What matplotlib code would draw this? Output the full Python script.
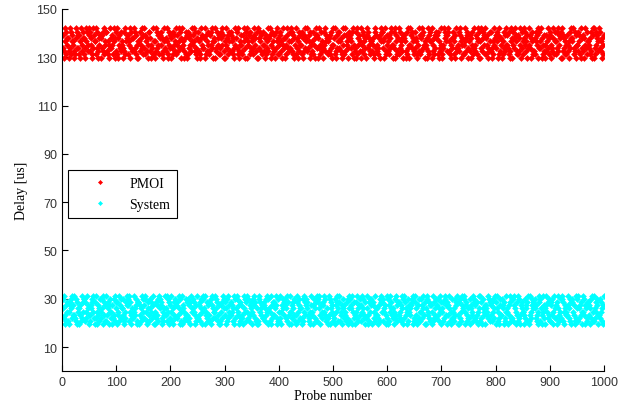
import numpy as np
import matplotlib

matplotlib.use("Agg")
from matplotlib import pyplot as plt  # noqa: E402

# Delay levels (us) seen in each band; the code strings index into these.
PMOI_LEVELS = [129.8, 131.2, 132.5, 133.9, 135.2, 136.6, 137.9, 139.3, 140.6, 142.0]
SYSTEM_LEVELS = [19.5, 20.8, 22.1, 23.4, 24.7, 26.0, 27.3, 28.6, 29.9, 31.2]

PMOI_CODES = """
7302958146 6203918755 4201968337 7150942866 1039582479
2846019375 5918302647 0637281945 8825104936 3471950628
9160473825 4038291567 1754093862 6293817045 0582649317
3917526048 8264039151 5029384716 7481620593 2695018437
6038147259 1472958306 9345026817 0816374295 4759283160
8521069473 3690715284 2174839506 5903284617 1368497025
0496371852 7825160394 6381920547 4217593068 9054718236
5137946280 0963582714 8420617359 2679041853 7208395164
1785204936 6041793528 3952871604 9136508247 4810627395
6293758014 2518460973 7069314825 0384927561 5627183049
4619027358 8356201947 1927450386 6735819402 3081964725
9042875163 0798346215 5264019837 2413670958 8536092174
2571639840 4830957126 9183542607 7650218394 0947386512
8365104297 1629783450 3406927185 5092461738 6718053249
0134986572 7982514036 6851073924 3827905461 1459627830
5726048319 3247169508 0593286471 9164730285 2803514967
3850791624 6015832749 4738102956 0486397512 7162940385
1968425703 9473605812 2615847093 8359061427 4027593618
7403269185 5138927460 8092736514 1724058396 6591382704
4287510936 2760493185 5346128079 0913847652 9835260417
"""

SYSTEM_CODES = """
5829036147 1047658293 6392817054 0563129478 8714295630
3165784920 7920436158 2458093716 9137560842 4602831975
0743916285 5381024769 8619470352 2495386107 7036159248
6298401573 1854729630 4027361895 8760214539 3519847062
9410573826 6273958014 0965142387 3182607945 5847031692
2637185049 8509342716 7318069254 4925871360 1064729583
7051829463 3746150928 5893406172 6230958417 9482163750
4386927150 0198473562 2671538940 8514092673 3759602814
1924068537 6825197304 9046275381 0397146825 5201849376
8573214096 4360825719 1785903642 7649381250 2938057461
3208649715 9714360582 6431728095 1856094273 0472915638
6149852307 2593071846 8067249153 5320618794 7815463029
0861497532 5048239617 3724165908 9273504186 4356780912
9735016284 1482695370 0598437261 6041927358 2683159407
5417298360 7369510428 4215836790 3708241965 8940673125
2086543917 8621734059 9172058346 0564392871 6317842590
7594120683 3856071294 5403697218 2819654037 1928306754
4302865179 0139428675 6856213409 7185039462 5069427831
1678340952 6207591348 2981740563 4396258107 8743610295
8915263740 9483065127 7630582914 1952476830 3284715069
"""

X_TICKS = [0, 100, 200, 300, 400, 500, 600, 700, 800, 900, 1000]
Y_TICKS = [10, 30, 50, 70, 90, 110, 130, 150]


def decode(codes, levels):
    digits = [int(c) for c in codes if c.isdigit()]
    return np.array([levels[d] for d in digits])


pmoi = decode(PMOI_CODES, PMOI_LEVELS)
system = decode(SYSTEM_CODES, SYSTEM_LEVELS)

plt.rcParams["font.family"] = "Liberation Sans"

fig = plt.figure(figsize=(6.33, 4.14), dpi=100)
ax = fig.add_axes([0.098, 0.101, 0.856, 0.875])

ax.plot(np.arange(1, len(pmoi) + 1), pmoi, linestyle="none", marker="D",
        markersize=3.0, color="#ff0000", markeredgewidth=0.4, label="PMOI")
ax.plot(np.arange(1, len(system) + 1), system, linestyle="none", marker="D",
        markersize=3.0, color="#00ffff", markeredgewidth=0.4, label="System")

ax.set_xlim(0, 1000)
ax.set_ylim(0, 150)
ax.set_xticks(X_TICKS)
ax.set_yticks(Y_TICKS)
ax.tick_params(direction="in", length=4, width=0.8, labelsize=9,
               labelcolor="#333333")
ax.spines["top"].set_visible(False)
ax.spines["right"].set_visible(False)

ax.set_xlabel("Probe number", family="Liberation Serif", fontsize=10, labelpad=1)
ax.set_ylabel("Delay [us]", family="Liberation Serif", fontsize=10, labelpad=6)

leg = ax.legend(loc="upper left", bbox_to_anchor=(0.011, 0.555), fancybox=False,
                edgecolor="black", framealpha=1, markerscale=0.7,
                borderaxespad=0, handlelength=3.6,
                prop={"family": "Liberation Serif", "size": 10},
                handletextpad=0.3, borderpad=0.5, labelspacing=0.55)
leg.get_frame().set_linewidth(0.8)

fig.savefig("out.png", dpi=100)
